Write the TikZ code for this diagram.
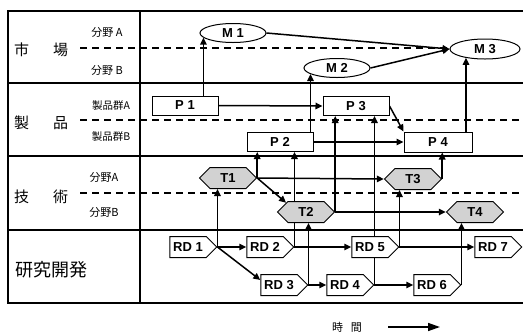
\documentclass[tikz,border=0pt]{standalone}
\usepackage{fontspec}
\setmainfont{Liberation Sans}
\newfontfamily\jp{Noto Sans CJK JP}
\usetikzlibrary{shapes.geometric,shapes.symbols,arrows.meta,backgrounds}

\begin{document}
\begin{tikzpicture}[
  x=1pt, y=-1pt,
  font=\bfseries\fontsize{13}{13}\selectfont,
  pbox/.style={rectangle, draw, line width=1pt, fill=white,
               minimum width=66pt, minimum height=19pt, inner sep=1pt},
  mkt/.style={ellipse, draw, line width=1pt, fill=white,
              minimum width=66pt, minimum height=19pt, inner sep=1pt},
  tech/.style={signal, signal to=east and west, draw, line width=1pt,
               fill=gray!35, minimum width=57pt, minimum height=21pt, inner sep=1pt},
  rd/.style={signal, signal to=east, draw, line width=1pt, fill=white,
             minimum width=47pt, minimum height=21pt, inner sep=1pt},
  arr/.style={-{Triangle[length=7pt,width=6.5pt]}, line width=1.5pt},
  sep/.style={line width=1.5pt},
  dsh/.style={dash pattern=on 7pt off 5pt, line width=1.2pt},
  lbl/.style={font=\jp\fontsize{15}{15}\selectfont},
  sub/.style={font=\jp\fontsize{11}{11}\selectfont}
]
\useasboundingbox (0,0) rectangle (523,333);

% ---- Row labels (left) ----
\node[lbl] (mktlbl)  at (41,50)  {市\hspace{24pt}場};
\node[lbl] (prdlbl)  at (41,123) {製\hspace{24pt}品};
\node[lbl] (teclbl)  at (41,197) {技\hspace{24pt}術};
\node[lbl, font=\jp\fontsize{18}{18}\selectfont] (rdlbl) at (52,270) {研究開発};

\node[sub] (mkta) at (107,32)  {分野 A};
\node[sub] (mktb) at (107,70)  {分野 B};
\node[sub, font=\jp\fontsize{10.5}{10.5}\selectfont] (prda) at (111,106) {製品群A};
\node[sub, font=\jp\fontsize{10.5}{10.5}\selectfont] (prdb) at (111,137) {製品群B};
\node[sub] (teca) at (104,177) {分野A};
\node[sub] (tecb) at (104,212) {分野B};

% ---- Market ----
\node[mkt] (M1) at (233,33) {M 1};
\node[mkt] (M2) at (337,68) {M 2};
\node[mkt, minimum width=70pt, minimum height=20pt] (M3) at (485,49) {M 3};

% ---- Products ----
\node[pbox] (P1) at (185,105.5) {P 1};
\node[pbox] (P2) at (280,142)   {P 2};
\node[pbox] (P3) at (356,106)   {P 3};
\node[pbox, minimum width=68pt, minimum height=20pt] (P4) at (438,142) {P 4};

% ---- Technology ----
\node[tech] (T1) at (228,178) {T1};
\node[tech] (T2) at (306,212) {T2};
\node[tech] (T3) at (413,179) {T3};
\node[tech] (T4) at (475,212) {T4};

% ---- R&D ----
\node[rd] (RD1) at (188,247) {RD 1};
\node[rd] (RD2) at (265,247) {RD 2};
\node[rd] (RD3) at (279,285) {RD 3};
\node[rd] (RD4) at (345,285) {RD 4};
\node[rd] (RD5) at (370,247) {RD 5};
\node[rd] (RD6) at (432,285) {RD 6};
\node[rd] (RD7) at (493,247) {RD 7};

% ---- Time axis ----
\node[sub] (time) at (347,327) {時\hspace{8pt}間};
\coordinate (tstart) at (388,327);
\coordinate (tend)   at (440,327);
\draw[-{Triangle[length=12pt,width=8pt]}, line width=1.5pt] (tstart) -- (tend);

\begin{scope}[on background layer]
  % grid
  \draw[sep] (8,11) rectangle (530,303);
  \draw[sep] (140,11) -- (140,303);
  \draw[sep] (8,83) -- (523,83);
  \draw[sep] (8,156) -- (523,156);
  \draw[sep] (8,230) -- (523,230);
  \draw[dsh] (80,48) -- (523,48);
  \draw[dsh] (80,120) -- (523,120);
  \draw[dsh] (80,193) -- (523,193);

  % market links
  \draw[arr] (P1.north -| M1.189) -- (M1.189);
  \draw[arr] (P2.north -| M2.193) -- (M2.193);
  \draw[arr] (P4.north -| M3.205) -- (M3.205);
  \draw[arr] (M1.east) -- (M3.west);
  \draw[arr] (M2.east) -- (M3.west);

  % product links
  \draw[arr] (P1.east) -- (P3.west);
  \draw[arr] (P2.east) -- (P4.west);
  \draw[arr] (P3.east) -- (P4.north west);

  % technology links
  \draw[arr] (T1.east) -- (T1.east |- P2.south);
  \draw[arr] (T1.east) -- (T3.west);
  \draw[arr] (T1.east) -- (T2.155);
  \draw[arr] (T2.east) -- (T2.east |- P3.south);
  \draw[arr] (T2.east) -- (T4.west);
  \draw[arr] (T3.east) -- (T3.east |- P4.south);

  % R&D links
  \draw[arr] (RD1.east) -- (RD1.east |- T1.south);
  \draw[arr] (RD1.east) -- (RD2.west);
  \draw[arr] (RD1.east) -- (RD3.165);
  \draw[arr] (RD2.east) -- (RD2.east |- P2.south);
  \draw[arr] (RD2.east) -- (RD5.west);
  \draw[arr] (RD3.east) -- (RD3.east |- T2.south);
  \draw[arr] (RD3.east) -- (RD4.west);
  \draw[arr] (RD4.east) -- (RD4.east |- P3.south);
  \draw[arr] (RD4.east) -- (RD6.west);
  \draw[arr] (RD5.east) -- (RD5.east |- T3.south);
  \draw[arr] (RD5.east) -- (RD7.west);
  \draw[arr] (RD6.east) -- (RD6.east |- T4.south);
\end{scope}

\end{tikzpicture}
\end{document}
